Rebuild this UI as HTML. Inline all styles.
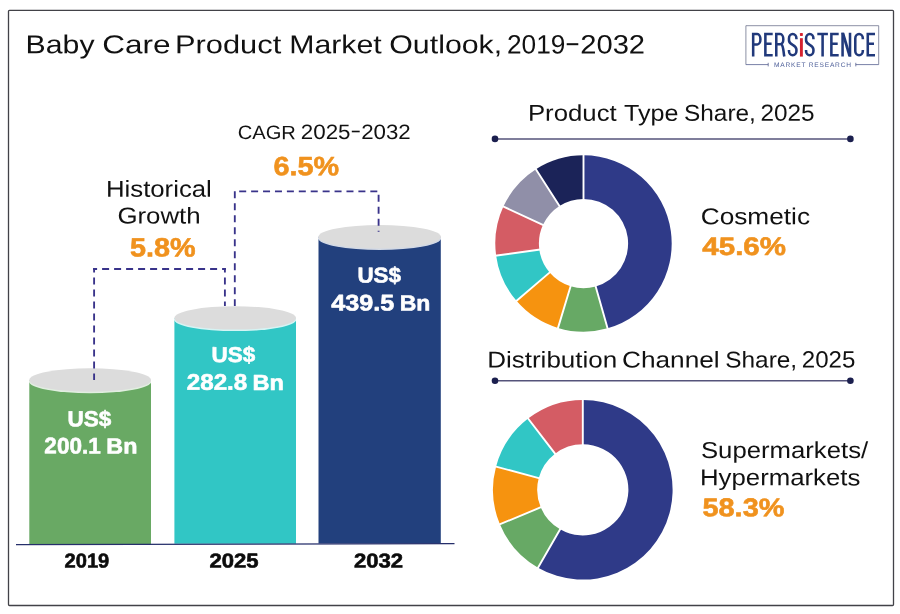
<!DOCTYPE html>
<html><head><meta charset="utf-8"><title>Baby Care Product Market Outlook, 2019-2032</title>
<style>
html,body{margin:0;padding:0;background:#ffffff;}
body{width:900px;height:614px;overflow:hidden;font-family:"Liberation Sans",sans-serif;}
svg{display:block;will-change:transform;}
text{font-family:"Liberation Sans",sans-serif;text-rendering:geometricPrecision;}
</style></head><body>
<svg width="900" height="614" viewBox="0 0 900 614" font-family="'Liberation Sans', sans-serif">
<rect x="0" y="0" width="900" height="614" fill="#ffffff"/>
<rect x="8.5" y="10.3" width="885" height="595.2" rx="1" fill="#ffffff" stroke="#424248" stroke-width="1.3"/>
<!-- logo -->
<g id="logo">
<path d="M745.9,64.6 L745.9,25.7 L878.7,25.7 L878.7,64.6" fill="none" stroke="#6f748e" stroke-width="0.8"/><path d="M745.9,64.6 L768.2,64.6 M855.8,64.6 L878.7,64.6 M768.2,62.8 L768.2,66.4 M855.8,62.8 L855.8,66.4" fill="none" stroke="#55608f" stroke-width="0.8"/>
<path d="M753.175,56.5 V32.8 M754.2499999999999,34.074999999999996 H757.225 A3.2,5.162500000000001 0 0 1 757.225,44.4 H754.2499999999999" fill="none" stroke="#21397b" stroke-width="2.55" />
<path d="M772.7,34.074999999999996 H765.375 V55.225 H772.7 M765.375,43.7 H771.6" fill="none" stroke="#21397b" stroke-width="2.55" />
<path d="M776.275,56.5 V32.8 M777.3499999999999,34.074999999999996 H780.125 A3.2,5.0625000000000036 0 0 1 780.125,44.2 H777.3499999999999" fill="none" stroke="#21397b" stroke-width="2.55" />
<path d="M781.6,44.6 C783.6,46.5 783.3,52 784.3,56.5" fill="none" stroke="#21397b" stroke-width="2.55" />
<path d="M796.4250000000001,39.3 V38.37499999999999 A3.7250000000000227,4.3 0 0 0 788.975,38.37499999999999 V40.2 C788.975,45.6 796.4250000000001,44.2 796.4250000000001,49.6 V50.925000000000004 A3.7250000000000227,4.3 0 0 1 788.975,50.925000000000004 V50.1" fill="none" stroke="#21397b" stroke-width="2.55" />
<path d="M813.4250000000001,39.3 V38.37499999999999 A3.675000000000068,4.3 0 0 0 806.0749999999999,38.37499999999999 V40.2 C806.0749999999999,45.6 813.4250000000001,44.2 813.4250000000001,49.6 V50.925000000000004 A3.675000000000068,4.3 0 0 1 806.0749999999999,50.925000000000004 V50.1" fill="none" stroke="#21397b" stroke-width="2.55" />
<path d="M817.3,34.074999999999996 H827.9 M822.6,32.8 V56.5" fill="none" stroke="#21397b" stroke-width="2.55" />
<path d="M838.7,34.074999999999996 H831.375 V55.225 H838.7 M831.375,43.7 H837.7" fill="none" stroke="#21397b" stroke-width="2.55" />
<path d="M842.5749999999999,56.5 V32.8 M850.025,56.5 V32.8" fill="none" stroke="#21397b" stroke-width="2.55" />
<path d="M862.825,39.3 V38.37499999999999 A3.775000000000034,4.3 0 0 0 855.275,38.37499999999999 V50.925000000000004 A3.775000000000034,4.3 0 0 0 862.825,50.925000000000004 V50.1" fill="none" stroke="#21397b" stroke-width="2.55" />
<path d="M875.0,34.074999999999996 H867.775 V55.225 H875.0 M867.775,43.7 H874.0" fill="none" stroke="#21397b" stroke-width="2.55" />
<rect x="799.95" y="38.2" width="2.9" height="18.40" fill="#d6222f"/>
<rect x="799.95" y="32.9" width="2.9" height="3.0" rx="0.6" fill="#d6222f"/>
<path d="M841.3,32.8 L844.2499999999999,32.8 L851.3,56.5 L848.35,56.5 Z" fill="#21397b"/>
<text x="774" y="66.7" font-size="6.6" font-weight="normal" fill="#50619a" textLength="77" lengthAdjust="spacing">MARKET RESEARCH</text>
</g>
<!-- bars -->
<path d="M29.3,380 L29.3,543.9 L151,543.9 L151,380 Z" fill="#69a964"/><ellipse cx="90.15" cy="381.5" rx="61.15" ry="11.7" fill="#ffffff" opacity="0.8"/><ellipse cx="90.15" cy="380" rx="60.85" ry="11.7" fill="#dcdcdc"/>
<path d="M174.4,317.9 L174.4,543.7 L296,543.7 L296,317.9 Z" fill="#31c6c5"/><ellipse cx="235.2" cy="319.4" rx="61.099999999999994" ry="11.7" fill="#ffffff" opacity="0.8"/><ellipse cx="235.2" cy="317.9" rx="60.8" ry="11.7" fill="#dcdcdc"/>
<path d="M318.5,236.7 L318.5,543.4 L440.8,543.4 L440.8,236.7 Z" fill="#22407d"/><ellipse cx="379.65" cy="238.2" rx="61.45" ry="11.7" fill="#ffffff" opacity="0.8"/><ellipse cx="379.65" cy="236.7" rx="61.150000000000006" ry="11.7" fill="#dcdcdc"/>
<!-- axis -->
<path d="M16,544.7 L454.5,543.7" stroke="#262f6b" stroke-width="1.3" fill="none"/>
<!-- dashed -->
<g stroke="#39338a" stroke-width="1.85" fill="none" stroke-dasharray="7 5">
<path d="M94.1,268 V380" stroke-dashoffset="2.4"/>
<path d="M93.1,269 H225.9" stroke-dashoffset="3"/>
<path d="M224.9,268 V305.9" stroke-dashoffset="2.4"/>
<path d="M234.8,191.2 V305.9"/>
<path d="M239.2,191.3 H377.6" stroke-dasharray="7 4.92"/>
<path d="M378.6,194.7 V231.8"/>
</g>
<!-- right rules -->
<path d="M495,138.9 L850.4,138.9" stroke="#55537a" stroke-width="1.5"/>
<circle cx="495" cy="138.9" r="3.3" fill="#1b1f4e"/><circle cx="850.4" cy="138.9" r="3.3" fill="#1b1f4e"/>
<path d="M495,380.8 L850.4,380.8" stroke="#55537a" stroke-width="1.5"/>
<circle cx="495" cy="380.8" r="3.3" fill="#1b1f4e"/><circle cx="850.4" cy="380.8" r="3.3" fill="#1b1f4e"/>
<!-- donuts -->
<path d="M583.50,155.30 A88.2,88.2 0 0 1 607.57,328.35 L595.67,286.41 A44.6,44.6 0 0 0 583.50,198.90 Z" fill="#2f3a88"/>
<path d="M607.57,328.35 A88.2,88.2 0 0 1 558.01,327.94 L570.61,286.20 A44.6,44.6 0 0 0 595.67,286.41 Z" fill="#67a965"/>
<path d="M558.01,327.94 A88.2,88.2 0 0 1 516.49,300.85 L549.62,272.50 A44.6,44.6 0 0 0 570.61,286.20 Z" fill="#f6930f"/>
<path d="M516.49,300.85 A88.2,88.2 0 0 1 496.14,255.65 L539.33,249.65 A44.6,44.6 0 0 0 549.62,272.50 Z" fill="#31c6c5"/>
<path d="M496.14,255.65 A88.2,88.2 0 0 1 503.38,206.62 L542.99,224.85 A44.6,44.6 0 0 0 539.33,249.65 Z" fill="#d45c64"/>
<path d="M503.38,206.62 A88.2,88.2 0 0 1 535.93,169.23 L559.44,205.94 A44.6,44.6 0 0 0 542.99,224.85 Z" fill="#908fa8"/>
<path d="M535.93,169.23 A88.2,88.2 0 0 1 583.50,155.30 L583.50,198.90 A44.6,44.6 0 0 0 559.44,205.94 Z" fill="#1b2358"/>
<path d="M583.50,199.90 L583.50,154.30 M595.40,285.44 L607.85,329.31 M570.90,285.24 L557.72,328.89 M550.38,271.85 L515.73,301.50 M540.32,249.51 L495.15,255.79 M543.90,225.27 L502.47,206.20 M559.98,206.79 L535.39,168.39" stroke="#ffffff" stroke-width="1.9" fill="none"/>
<path d="M582.80,400.00 A89.8,89.8 0 1 1 538.06,567.66 L560.08,529.34 A45.6,45.6 0 1 0 582.80,444.20 Z" fill="#2f3a88"/>
<path d="M538.06,567.66 A89.8,89.8 0 0 1 499.89,524.30 L540.70,507.32 A45.6,45.6 0 0 0 560.08,529.34 Z" fill="#67a965"/>
<path d="M499.89,524.30 A89.8,89.8 0 0 1 496.04,466.65 L538.74,478.04 A45.6,45.6 0 0 0 540.70,507.32 Z" fill="#f6930f"/>
<path d="M496.04,466.65 A89.8,89.8 0 0 1 528.10,418.59 L555.02,453.64 A45.6,45.6 0 0 0 538.74,478.04 Z" fill="#31c6c5"/>
<path d="M528.10,418.59 A89.8,89.8 0 0 1 582.80,400.00 L582.80,444.20 A45.6,45.6 0 0 0 555.02,453.64 Z" fill="#d45c64"/>
<path d="M582.80,445.20 L582.80,399.00 M560.58,528.47 L537.56,568.53 M541.62,506.93 L498.97,524.68 M539.71,478.30 L495.07,466.39 M555.63,454.43 L527.49,417.79" stroke="#ffffff" stroke-width="1.9" fill="none"/>
<rect x="566.7" y="43.2" width="11.6" height="2.0" fill="#111111"/><rect x="351.8" y="130.7" width="7.9" height="1.6" fill="#111111"/>
<!-- text -->
<text transform="translate(25.58,53.30) rotate(0.03) scale(1.1721,1)" font-size="25.80" font-weight="normal" fill="#111111">Baby</text>
<text transform="translate(102.18,53.30) rotate(0.03) scale(1.2199,1)" font-size="25.80" font-weight="normal" fill="#111111">Care</text>
<text transform="translate(175.04,53.30) rotate(0.03) scale(1.1940,1)" font-size="25.80" font-weight="normal" fill="#111111">Product</text>
<text transform="translate(289.33,53.30) rotate(0.03) scale(1.1714,1)" font-size="25.80" font-weight="normal" fill="#111111">Market</text>
<text transform="translate(389.29,53.30) rotate(0.03) scale(1.1749,1)" font-size="25.80" font-weight="normal" fill="#111111">Outlook,</text>
<text transform="translate(506.99,53.43) rotate(0.03) scale(0.9866,1)" font-size="26.62" font-weight="normal" fill="#111111">2019</text>
<text transform="translate(580.24,53.43) rotate(0.03) scale(1.0943,1)" font-size="26.62" font-weight="normal" fill="#111111">2032</text>
<text transform="translate(237.74,139.11) rotate(0.03) scale(1.0347,1)" font-size="19.44" font-weight="normal" fill="#111111">CAGR</text>
<text transform="translate(300.78,139.09) rotate(0.03) scale(1.0723,1)" font-size="20.85" font-weight="normal" fill="#111111">2025</text>
<text transform="translate(361.19,139.09) rotate(0.03) scale(1.0683,1)" font-size="20.85" font-weight="normal" fill="#111111">2032</text>
<text transform="translate(273.54,175.23) rotate(0.03) scale(1.0814,1)" font-size="26.62" font-weight="bold" fill="#f0921e" stroke="#f0921e" stroke-width="0.6" stroke-linejoin="round">6.5%</text>
<text transform="translate(105.94,196.70) rotate(0.03) scale(1.1183,1)" font-size="23.04" font-weight="normal" fill="#111111">Historical</text>
<text transform="translate(117.41,223.57) rotate(0.03) scale(1.1249,1)" font-size="22.96" font-weight="normal" fill="#111111">Growth</text>
<text transform="translate(130.09,256.43) rotate(0.03) scale(1.0814,1)" font-size="26.62" font-weight="bold" fill="#f0921e" stroke="#f0921e" stroke-width="0.6" stroke-linejoin="round">5.8%</text>
<text transform="translate(67.50,426.18) rotate(0.03) scale(1.0366,1)" font-size="21.71" font-weight="bold" fill="#ffffff" stroke="#ffffff" stroke-width="0.6" stroke-linejoin="round">US$</text>
<text transform="translate(44.37,453.37) rotate(0.03) scale(0.9995,1)" font-size="22.54" font-weight="bold" fill="#ffffff" stroke="#ffffff" stroke-width="0.6" stroke-linejoin="round">200.1</text>
<text transform="translate(106.35,453.50) rotate(0.03) scale(1.0668,1)" font-size="21.88" font-weight="bold" fill="#ffffff" stroke="#ffffff" stroke-width="0.6" stroke-linejoin="round">Bn</text>
<text transform="translate(211.61,361.98) rotate(0.03) scale(1.0386,1)" font-size="21.57" font-weight="bold" fill="#ffffff" stroke="#ffffff" stroke-width="0.6" stroke-linejoin="round">US$</text>
<text transform="translate(186.72,389.77) rotate(0.03) scale(1.0739,1)" font-size="22.54" font-weight="bold" fill="#ffffff" stroke="#ffffff" stroke-width="0.6" stroke-linejoin="round">282.8</text>
<text transform="translate(252.43,389.90) rotate(0.03) scale(1.0781,1)" font-size="21.88" font-weight="bold" fill="#ffffff" stroke="#ffffff" stroke-width="0.6" stroke-linejoin="round">Bn</text>
<text transform="translate(357.41,282.38) rotate(0.03) scale(1.0361,1)" font-size="21.57" font-weight="bold" fill="#ffffff" stroke="#ffffff" stroke-width="0.6" stroke-linejoin="round">US$</text>
<text transform="translate(331.20,310.47) rotate(0.03) scale(1.1104,1)" font-size="22.68" font-weight="bold" fill="#ffffff" stroke="#ffffff" stroke-width="0.6" stroke-linejoin="round">439.5</text>
<text transform="translate(399.67,310.60) rotate(0.03) scale(1.0518,1)" font-size="21.88" font-weight="bold" fill="#ffffff" stroke="#ffffff" stroke-width="0.6" stroke-linejoin="round">Bn</text>
<text transform="translate(64.55,567.60) rotate(0.03) scale(0.9995,1)" font-size="20.14" font-weight="bold" fill="#0c0c0c" stroke="#0c0c0c" stroke-width="0.6" stroke-linejoin="round">2019</text>
<text transform="translate(209.49,567.60) rotate(0.03) scale(1.0979,1)" font-size="20.14" font-weight="bold" fill="#0c0c0c" stroke="#0c0c0c" stroke-width="0.6" stroke-linejoin="round">2025</text>
<text transform="translate(353.99,567.60) rotate(0.03) scale(1.0972,1)" font-size="20.14" font-weight="bold" fill="#0c0c0c" stroke="#0c0c0c" stroke-width="0.6" stroke-linejoin="round">2032</text>
<text transform="translate(527.94,120.75) rotate(0.03) scale(1.1283,1)" font-size="22.83" font-weight="normal" fill="#111111">Product</text>
<text transform="translate(624.00,120.75) rotate(0.03) scale(1.0995,1)" font-size="22.83" font-weight="normal" fill="#111111">Type</text>
<text transform="translate(684.02,120.75) rotate(0.03) scale(1.0686,1)" font-size="22.83" font-weight="normal" fill="#111111">Share,</text>
<text transform="translate(760.53,120.77) rotate(0.03) scale(1.0400,1)" font-size="23.38" font-weight="normal" fill="#111111">2025</text>
<text transform="translate(487.17,367.50) rotate(0.03) scale(1.1390,1)" font-size="22.83" font-weight="normal" fill="#111111">Distribution</text>
<text transform="translate(621.94,367.50) rotate(0.03) scale(1.1489,1)" font-size="22.83" font-weight="normal" fill="#111111">Channel</text>
<text transform="translate(725.27,367.50) rotate(0.03) scale(1.0686,1)" font-size="22.83" font-weight="normal" fill="#111111">Share,</text>
<text transform="translate(801.80,367.56) rotate(0.03) scale(1.0239,1)" font-size="23.52" font-weight="normal" fill="#111111">2025</text>
<text transform="translate(700.69,224.30) rotate(0.03) scale(1.1396,1)" font-size="23.04" font-weight="normal" fill="#111111">Cosmetic</text>
<text transform="translate(702.35,255.05) rotate(0.03) scale(1.1638,1)" font-size="25.35" font-weight="bold" fill="#f0921e" stroke="#f0921e" stroke-width="0.6" stroke-linejoin="round">45.6%</text>
<text transform="translate(700.97,458.00) rotate(0.03) scale(1.1164,1)" font-size="23.04" font-weight="normal" fill="#111111">Supermarkets/</text>
<text transform="translate(699.94,485.30) rotate(0.03) scale(1.1194,1)" font-size="23.04" font-weight="normal" fill="#111111">Hypermarkets</text>
<text transform="translate(702.48,516.14) rotate(0.03) scale(1.1271,1)" font-size="25.63" font-weight="bold" fill="#f0921e" stroke="#f0921e" stroke-width="0.6" stroke-linejoin="round">58.3%</text>
</svg>
</body></html>
